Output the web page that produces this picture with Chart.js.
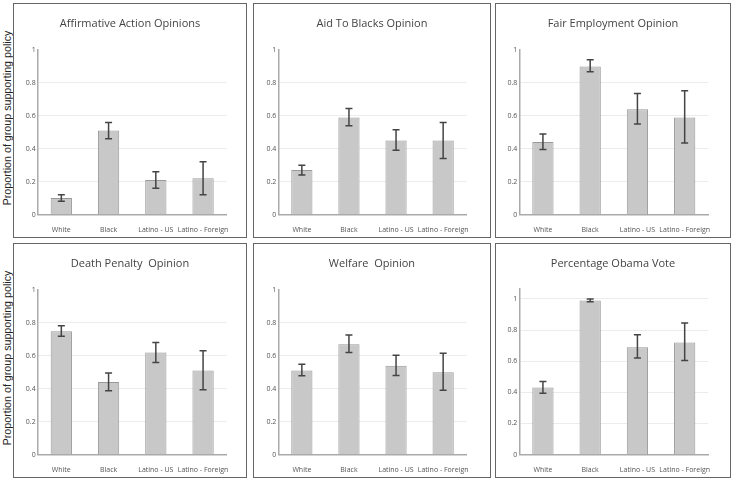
<!DOCTYPE html>
<html>
<head>
<meta charset="utf-8">
<script src="https://cdn.jsdelivr.net/npm/chart.js@4.4.0/dist/chart.umd.min.js"></script>
<style>
body{margin:0;background:#fff;width:733px;height:481px;position:relative;overflow:hidden}
.panel{position:absolute;box-sizing:border-box;border:1px solid #666;background:#fff}
.panel .box{position:absolute;left:0;top:0;width:100%;height:100%}
.panel .ttl{position:absolute;left:0;right:0;top:11px;text-align:center;font-family:"Open Sans",sans-serif;font-size:11px;line-height:15px;color:#444;white-space:pre}
.ytitle{position:absolute;left:7px;transform:translate(-50%,-50%) rotate(-90deg);white-space:nowrap;font-family:"Liberation Sans",Arial,sans-serif;font-size:10.7px;color:#222}
</style>
</head>
<body>
<div class="ytitle" style="top:118px">Proportion of group supporting policy</div>
<div class="ytitle" style="top:358px">Proportion of group supporting policy</div>

<div class="panel" style="left:13px;top:3px;width:234px;height:235px"><div class="box"><canvas id="c1"></canvas></div><div class="ttl" id="t1"></div></div>
<div class="panel" style="left:253px;top:3px;width:238px;height:235px"><div class="box"><canvas id="c2"></canvas></div><div class="ttl" id="t2"></div></div>
<div class="panel" style="left:495px;top:3px;width:236px;height:235px"><div class="box"><canvas id="c3"></canvas></div><div class="ttl" id="t3"></div></div>
<div class="panel" style="left:13px;top:243px;width:234px;height:235px"><div class="box"><canvas id="c4"></canvas></div><div class="ttl" id="t4"></div></div>
<div class="panel" style="left:253px;top:243px;width:238px;height:235px"><div class="box"><canvas id="c5"></canvas></div><div class="ttl" id="t5"></div></div>
<div class="panel" style="left:495px;top:243px;width:236px;height:235px"><div class="box"><canvas id="c6"></canvas></div><div class="ttl" id="t6"></div></div>

<script>
// datos
const categories = ["White", "Black", "Latino - US", "Latino - Foreign"];
const titles = ["Affirmative Action Opinions", "Aid To Blacks Opinion", "Fair Employment Opinion",
                "Death Penalty  Opinion", "Welfare  Opinion", "Percentage Obama Vote"];

const affirmativeMean = [0.10, 0.51, 0.21, 0.22];
const affirmativeLow  = [0.08, 0.46, 0.16, 0.12];
const affirmativeHigh = [0.12, 0.56, 0.26, 0.32];

const aidMean = [0.27, 0.59, 0.45, 0.45];
const aidLow  = [0.24, 0.54, 0.39, 0.34];
const aidHigh = [0.30, 0.645, 0.515, 0.56];

const fairMean = [0.44, 0.90, 0.64, 0.59];
const fairLow  = [0.395, 0.868, 0.55, 0.435];
const fairHigh = [0.489, 0.94, 0.736, 0.753];

const deathMean = [0.75, 0.44, 0.62, 0.51];
const deathLow  = [0.719, 0.388, 0.56, 0.394];
const deathHigh = [0.782, 0.495, 0.681, 0.63];

const welfareMean = [0.51, 0.67, 0.54, 0.50];
const welfareLow  = [0.478, 0.62, 0.48, 0.39];
const welfareHigh = [0.548, 0.726, 0.604, 0.615];

const obamaMean = [0.43, 0.99, 0.69, 0.72];
const obamaLow  = [0.394, 0.982, 0.62, 0.605];
const obamaHigh = [0.47, 1.0, 0.77, 0.845];

// yw = ancho del eje y, right = espacio a la derecha
const panels = [
    {id: "c1", mean: affirmativeMean, low: affirmativeLow, high: affirmativeHigh, max: 1, yw: 23.7, right: 19.3},
    {id: "c2", mean: aidMean, low: aidLow, high: aidHigh, max: 1, yw: 24.3, right: 23.3},
    {id: "c3", mean: fairMean, low: fairLow, high: fairHigh, max: 1, yw: 23.3, right: 21.7},
    {id: "c4", mean: deathMean, low: deathLow, high: deathHigh, max: 1, yw: 23.7, right: 19.3},
    {id: "c5", mean: welfareMean, low: welfareLow, high: welfareHigh, max: 1, yw: 24.3, right: 23.3},
    {id: "c6", mean: obamaMean, low: obamaLow, high: obamaHigh, max: 1.064, yw: 23.3, right: 21.7}
];

// barras de error
const errorBars = {
    id: "errorBars",
    afterDatasetsDraw(chart, args, opts) {
        const ctx = chart.ctx;
        const y = chart.scales.y;
        const meta = chart.getDatasetMeta(0);
        ctx.save();
        ctx.strokeStyle = "#444";
        ctx.lineWidth = 1.5;
        meta.data.forEach((bar, i) => {
            const top = y.getPixelForValue(opts.high[i]);
            const bot = y.getPixelForValue(opts.low[i]);
            ctx.beginPath();
            ctx.moveTo(bar.x, top); ctx.lineTo(bar.x, bot);
            ctx.moveTo(bar.x - 3.5, top); ctx.lineTo(bar.x + 3.5, top);
            ctx.moveTo(bar.x - 3.5, bot); ctx.lineTo(bar.x + 3.5, bot);
            ctx.stroke();
        });
        ctx.restore();
    }
};

panels.forEach((p, k) => {
    document.getElementById("t" + (k + 1)).textContent = titles[k];
    new Chart(document.getElementById(p.id), {
        type: "bar",
        data: {
            labels: categories,
            datasets: [{
                data: p.mean,
                backgroundColor: "#c8c8c8",
                borderColor: "#999",
                borderWidth: 1,
                barPercentage: 0.45,
                categoryPercentage: 1
            }]
        },
        options: {
            responsive: true,
            maintainAspectRatio: false,
            animation: false,
            layout: {padding: {left: 0, right: p.right, top: p.max === 1 ? 46 : 45, bottom: 0}},
            plugins: {
                legend: {display: false},
                tooltip: {enabled: false},
                title: {display: false},
                errorBars: {low: p.low, high: p.high}
            },
            scales: {
                x: {
                    grid: {display: false},
                    border: {display: true, color: "#aaa", width: 1.5},
                    ticks: {
                        color: "#555", font: {family: "'Open Sans'", size: 7},
                        maxRotation: 0, minRotation: 0, autoSkip: false, padding: 3
                    },
                    afterFit: s => { s.height = 22.5; s.paddingLeft = 0; s.paddingRight = 0; }
                },
                y: {
                    min: 0,
                    max: p.max,
                    grid: {
                        drawTicks: false,
                        color: c => (c.tick && c.tick.value >= 1 && p.max === 1) ? "rgba(0,0,0,0)" : "#ececec"
                    },
                    border: {display: true, color: "#aaa", width: 1.5},
                    ticks: {
                        stepSize: 0.2, color: "#555", padding: 2,
                        font: {family: "'Open Sans'", size: 7},
                        callback: v => String(+v.toFixed(1))
                    },
                    afterBuildTicks: s => {
                        s.ticks = s.ticks.filter(t => Math.abs(t.value * 5 - Math.round(t.value * 5)) < 1e-6);
                    },
                    afterFit: s => { s.width = p.yw; s.paddingTop = 0; s.paddingBottom = 0; }
                }
            }
        },
        plugins: [errorBars]
    });
});
</script>
</body>
</html>
